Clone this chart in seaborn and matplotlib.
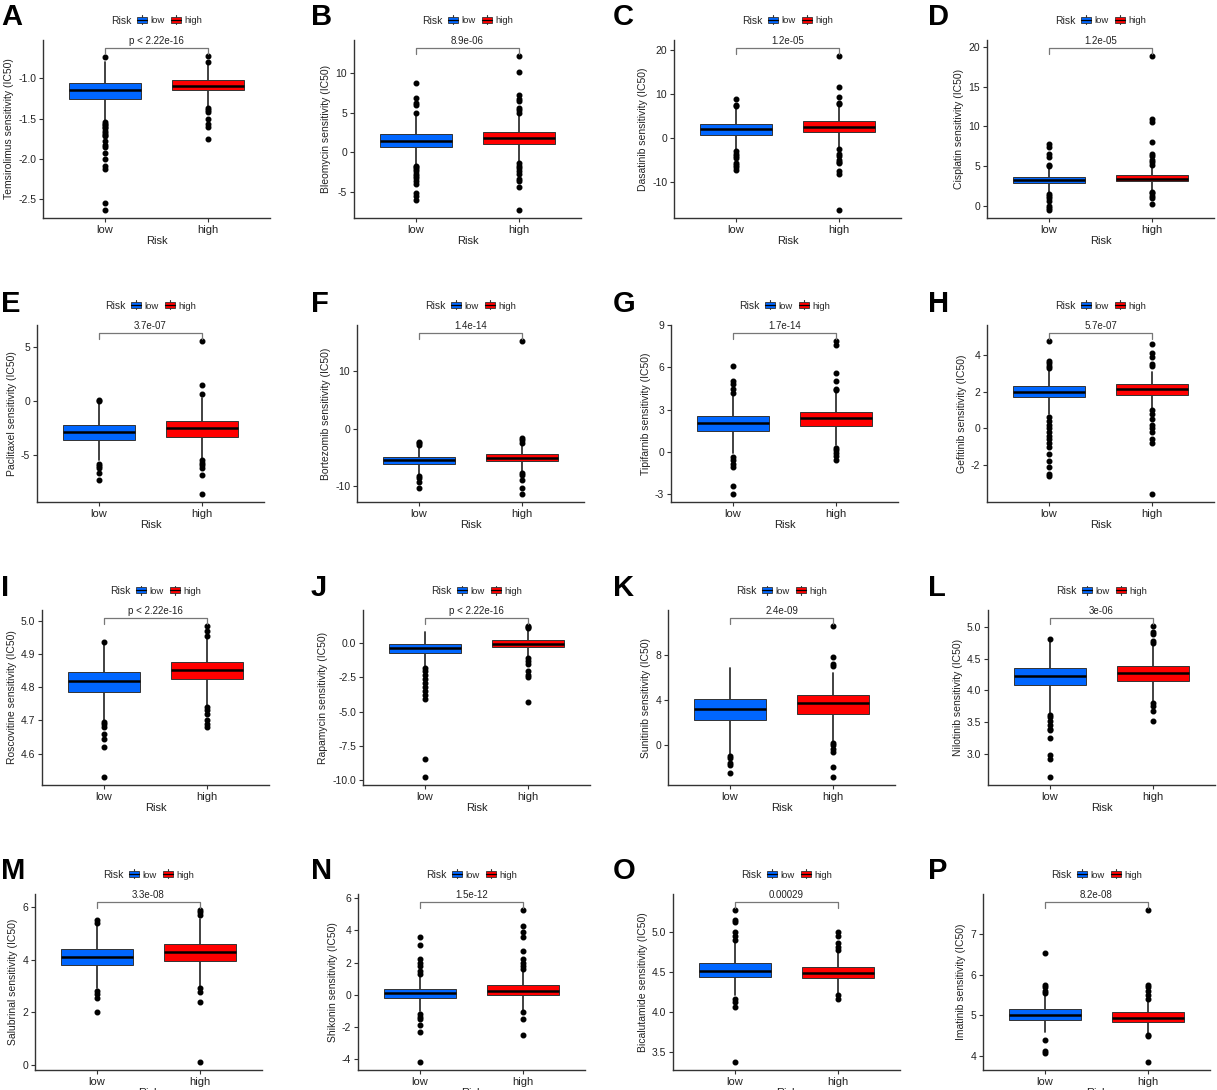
import numpy as np
import pandas as pd
import matplotlib
matplotlib.use("Agg")
import matplotlib.pyplot as plt
import seaborn as sns
from matplotlib.patches import Rectangle, Patch
from matplotlib.lines import Line2D
from matplotlib.legend_handler import HandlerBase

sns.set_style("ticks")
plt.rcParams["font.family"] = ["Liberation Sans", "DejaVu Sans"]
plt.rcParams["axes.unicode_minus"] = False

# ---- data ----
letters = list("ABCDEFGHIJKLMNOP")
drugs = ["Temsirolimus", "Bleomycin", "Dasatinib", "Cisplatin",
         "Paclitaxel", "Bortezomib", "Tipifarnib", "Gefitinib",
         "Roscovitine", "Rapamycin", "Sunitinib", "Nilotinib",
         "Salubrinal", "Shikonin", "Bicalutamide", "Imatinib"]
pvals = ["p < 2.22e-16", "8.9e-06", "1.2e-05", "1.2e-05",
         "3.7e-07", "1.4e-14", "1.7e-14", "5.7e-07",
         "p < 2.22e-16", "p < 2.22e-16", "2.4e-09", "3e-06",
         "3.3e-08", "1.5e-12", "0.00029", "8.2e-08"]
groups = ["low", "high"]

# box statistics: whisker low, q1, median, q3, whisker high
low_lo = [-1.52, -1.6, -2.8, 1.8, -5.5, -7.8, -0.1, 0.8, 4.70, -1.7, -0.8, 3.65, 2.9, -1.0, 4.22, 4.6]
low_q1 = [-1.25, 0.7, 0.75, 2.9, -3.57, -6.07, 1.5, 1.71, 4.786, -0.7, 2.23, 4.08, 3.79, -0.2, 4.44, 4.88]
low_med = [-1.15, 1.45, 2.0, 3.3, -2.9, -5.48, 2.05, 2.0, 4.819, -0.32, 3.25, 4.22, 4.1, 0.08, 4.51, 5.0]
low_q3 = [-1.06, 2.3, 3.25, 3.7, -2.22, -4.84, 2.53, 2.33, 4.845, -0.03, 4.1, 4.36, 4.4, 0.35, 4.61, 5.15]
low_hi = [-0.8, 4.8, 7.0, 4.8, -0.2, -3.0, 4.0, 3.2, 4.93, 0.8, 6.8, 4.78, 5.3, 1.2, 4.86, 5.5]

high_lo = [-1.34, -1.3, -2.2, 2.0, -5.4, -7.4, 0.5, 1.1, 4.745, -1.0, 0.4, 3.82, 2.95, -1.0, 4.24, 4.55]
high_q1 = [-1.15, 1.0, 1.4, 3.1, -3.33, -5.6, 1.85, 1.85, 4.823, -0.3, 2.81, 4.15, 3.93, -0.05, 4.43, 4.84]
high_med = [-1.09, 1.85, 2.5, 3.45, -2.5, -5.0, 2.4, 2.15, 4.85, -0.05, 3.72, 4.28, 4.27, 0.25, 4.49, 4.94]
high_q3 = [-1.02, 2.6, 3.8, 3.9, -1.85, -4.37, 2.85, 2.43, 4.875, 0.22, 4.42, 4.38, 4.58, 0.58, 4.57, 5.07]
high_hi = [-0.84, 5.0, 7.5, 5.0, 0.3, -2.6, 4.2, 3.1, 4.95, 1.0, 6.4, 4.72, 5.55, 1.5, 4.75, 5.35]

low_out = [
    [-0.74, -1.54, -1.56, -1.58, -1.6, -1.62, -1.65, -1.68, -1.7, -1.72, -1.78, -1.82, -1.85, -1.92, -2.0, -2.08, -2.12, -2.55, -2.63],
    [4.9, 6.0, 6.2, 6.8, 8.8, -1.7, -1.9, -2.1, -2.4, -2.7, -3.0, -3.3, -3.6, -4.0, -5.2, -5.5, -6.0],
    [7.2, 7.4, 8.8, -3.0, -3.5, -4.0, -4.5, -5.5, -6.0, -6.5, -7.2],
    [5.0, 5.2, 6.1, 6.5, 7.4, 7.8, 1.5, 1.3, 1.0, 0.6, 0.0, -0.3, -0.5],
    [0.0, 0.1, -5.8, -6.0, -6.2, -6.7, -7.3],
    [-2.8, -2.5, -2.2, -8.2, -8.5, -9.3, -10.2],
    [4.2, 4.5, 4.8, 5.0, 6.1, -0.4, -0.6, -0.9, -1.1, -2.4, -3.0],
    [3.3, 3.4, 3.6, 3.7, 4.8, 0.6, 0.4, 0.2, 0.0, -0.2, -0.4, -0.6, -0.8, -1.0, -1.4, -1.8, -2.1, -2.5, -2.6],
    [4.937, 4.695, 4.69, 4.68, 4.66, 4.645, 4.62, 4.53],
    [-1.8, -2.0, -2.3, -2.6, -2.9, -3.2, -3.5, -3.8, -4.1, -8.5, -9.8],
    [-0.9, -1.1, -1.6, -1.7, -2.4],
    [4.81, 3.62, 3.58, 3.52, 3.46, 3.4, 3.38, 3.25, 2.98, 2.93, 2.64],
    [5.4, 5.5, 2.8, 2.7, 2.55, 2.0],
    [1.3, 1.5, 1.8, 2.0, 2.2, 3.1, 3.6, -1.2, -1.4, -1.5, -1.9, -2.3, -4.2],
    [4.9, 4.95, 5.0, 5.12, 5.15, 5.28, 4.16, 4.13, 4.07, 3.38],
    [5.55, 5.6, 5.7, 5.75, 6.53, 4.4, 4.12, 4.08],
]
high_out = [
    [-0.80, -0.72, -1.37, -1.39, -1.42, -1.50, -1.57, -1.60, -1.75],
    [5.0, 5.3, 5.6, 6.5, 6.7, 7.2, 10.1, 12.2, -1.4, -1.7, -2.0, -2.4, -2.7, -3.4, -3.6, -4.4, -7.3],
    [7.7, 8.0, 9.2, 11.6, 18.6, -2.4, -3.6, -4.0, -5.0, -5.3, -5.6, -7.5, -8.0, -16.2],
    [5.2, 5.5, 5.8, 6.3, 6.6, 8.0, 10.6, 10.9, 18.9, 1.8, 1.6, 1.3, 1.0, 0.2],
    [0.7, 1.5, 5.6, -5.5, -5.7, -5.9, -6.2, -6.8, -8.6],
    [-2.4, -2.0, -1.6, 15.3, -7.6, -8.0, -8.8, -10.3, -11.3],
    [4.4, 4.5, 5.0, 5.6, 7.6, 7.9, 0.3, 0.1, -0.1, -0.3, -0.6],
    [3.4, 3.5, 3.9, 4.1, 4.6, 1.0, 0.8, 0.5, 0.2, 0.0, -0.2, -0.6, -0.8, -3.6],
    [4.955, 4.97, 4.985, 4.74, 4.73, 4.72, 4.70, 4.69, 4.68],
    [1.1, 1.2, 1.3, -1.1, -1.3, -1.5, -2.0, -2.3, -2.5, -4.3],
    [7.0, 7.2, 7.8, 10.6, 0.2, 0.0, -0.3, -0.6, -1.9, -2.8],
    [4.75, 4.78, 4.88, 4.92, 5.02, 3.8, 3.76, 3.67, 3.52],
    [5.7, 5.8, 5.9, 2.9, 2.75, 2.4, 0.1],
    [1.6, 1.8, 2.0, 2.2, 2.7, 3.6, 3.9, 4.3, 5.3, -1.1, -1.5, -2.5],
    [4.78, 4.82, 4.87, 4.95, 5.0, 4.21, 4.16],
    [5.4, 5.5, 5.6, 5.7, 5.75, 7.6, 4.52, 4.48, 3.85],
]
yticks = [
    [-2.5, -2.0, -1.5, -1.0], [-5, 0, 5, 10], [-10, 0, 10, 20], [0, 5, 10, 15, 20],
    [-5, 0, 5], [-10, 0, 10], [-3, 0, 3, 6, 9], [-2, 0, 2, 4],
    [4.6, 4.7, 4.8, 4.9, 5.0], [-10.0, -7.5, -5.0, -2.5, 0.0], [0, 4, 8], [3.0, 3.5, 4.0, 4.5, 5.0],
    [0, 2, 4, 6], [-4, -2, 0, 2, 4, 6], [3.5, 4.0, 4.5, 5.0], [4, 5, 6, 7],
]

# ---- layout (pixels of the 1217x1090 canvas) ----
W, H = 1217, 1090
low_tick_px = [105, 416, 736, 1049,
               99, 419, 733, 1049,
               104, 425, 730, 1050,
               97, 420, 735, 1045]
row_top = [40, 325, 610, 894]
row_bot = [218, 502, 785, 1070]
letter_x = [1, 311, 613, 928]
letter_y = [17, 304, 588, 871]
spacing = 103
colors = ["#0066FF", "#FF0000"]


class BoxKey(HandlerBase):
    def create_artists(self, legend, orig, xd, yd, w, h, fontsize, trans):
        fc = orig.get_facecolor()
        rect = Rectangle((xd, yd + 0.1 * h), w, 0.8 * h, facecolor=fc,
                         edgecolor="#333333", lw=0.6, transform=trans)
        mid = Line2D([xd, xd + w], [yd + h / 2] * 2, color="black", lw=0.9, transform=trans)
        w1 = Line2D([xd + w / 2] * 2, [yd - 0.15 * h, yd + 0.1 * h], color="#333333", lw=0.8, transform=trans)
        w2 = Line2D([xd + w / 2] * 2, [yd + 0.9 * h, yd + 1.15 * h], color="#333333", lw=0.8, transform=trans)
        return [rect, mid, w1, w2]


fig = plt.figure(figsize=(W / 100, H / 100), dpi=100)

for i in range(16):
    r, c = divmod(i, 4)
    left = low_tick_px[i] - 0.6 * spacing
    width = 2.2 * spacing
    ax = fig.add_axes([left / W, 1 - row_bot[r] / H, width / W, (row_bot[r] - row_top[r]) / H])

    stats = []
    for lo, q1, med, q3, hi, out in [
        (low_lo[i], low_q1[i], low_med[i], low_q3[i], low_hi[i], low_out[i]),
        (high_lo[i], high_q1[i], high_med[i], high_q3[i], high_hi[i], high_out[i]),
    ]:
        stats.append(dict(whislo=lo, q1=q1, med=med, q3=q3, whishi=hi, fliers=out))

    bp = ax.bxp(stats, positions=[1, 2], widths=0.7, patch_artist=True, showcaps=False,
                boxprops=dict(edgecolor="#333333", linewidth=0.7),
                whiskerprops=dict(color="#333333", linewidth=1.3),
                medianprops=dict(color="black", linewidth=1.8),
                flierprops=dict(marker="o", markerfacecolor="black", markeredgecolor="black",
                                markersize=3.3, linestyle="none"))
    for patch, col in zip(bp["boxes"], colors):
        patch.set_facecolor(col)
    for wl in bp["whiskers"]:
        wl.set_zorder(1)

    vals = [v for s in stats for v in [s["whislo"], s["whishi"]] + list(s["fliers"])]
    lo, hi = min(vals), max(vals)
    yb = hi + 0.05 * (hi - lo)
    span = yb - lo
    ax.set_ylim(lo - 0.05 * span, yb + 0.05 * span)
    ax.set_xlim(0.4, 2.6)

    d = 0.035 * span
    ax.plot([1, 1, 2, 2], [yb - d, yb, yb, yb - d], color="#777777", lw=0.9, clip_on=False)
    ax.text(1.5, yb + 0.01 * span, pvals[i], ha="center", va="bottom", fontsize=7, color="#222222")

    ax.set_yticks(yticks[i])
    ax.set_xticks([1, 2])
    ax.set_xticklabels(groups)
    ax.tick_params(axis="both", labelsize=7.5, length=3, width=0.8, color="#333333",
                   labelcolor="#222222", pad=2)
    ax.tick_params(axis="x", labelsize=8)
    ax.set_xlabel("Risk", fontsize=8, color="#222222", labelpad=1)
    ax.set_ylabel(f"{drugs[i]} sensitivity (IC50)", fontsize=7.5, color="#222222", labelpad=3)
    sns.despine(ax=ax)
    for s in ["left", "bottom"]:
        ax.spines[s].set_color("#333333")
        ax.spines[s].set_linewidth(1.0)

    handles = [Patch(facecolor=colors[0]), Patch(facecolor=colors[1])]
    leg = ax.legend(handles, groups, loc="center", bbox_to_anchor=(0.5, 1 + 19 / 177),
                    ncol=2, frameon=False, fontsize=6.8, title="Risk", title_fontsize=7.5,
                    handlelength=1.1, handleheight=0.75, handletextpad=0.35, columnspacing=0.6,
                    handler_map={Patch: BoxKey()})
    # put the legend title to the left of the keys, ggplot style
    vbox = leg._legend_box
    vbox._children = [leg._legend_handle_box]
    leg._legend_handle_box._children.insert(0, leg._legend_title_box)
    leg._legend_handle_box.align = "center"

    fig.text(letter_x[c] / W, 1 - letter_y[r] / H, letters[i], fontsize=21, fontweight="bold",
             color="black", ha="left", va="center")

fig.savefig("out.png", dpi=100)
